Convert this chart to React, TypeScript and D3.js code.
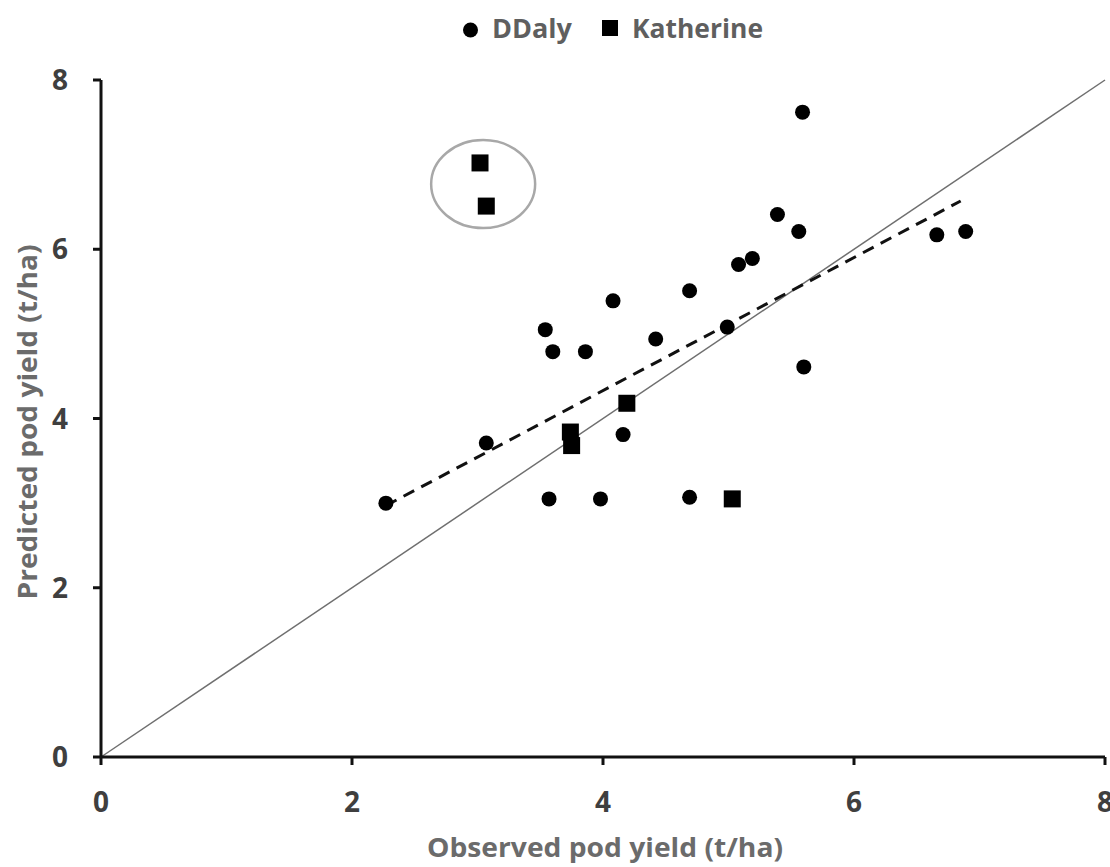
import React from "react";
import * as d3 from "d3";

const ddalyObserved = [2.27, 3.07, 3.54, 3.60, 3.86, 3.57, 3.98, 4.08, 4.16, 4.42, 4.69, 4.69, 4.99, 5.08, 5.19, 5.39, 5.59, 5.56, 5.60, 6.66, 6.89];
const ddalyPredicted = [3.00, 3.71, 5.05, 4.79, 4.79, 3.05, 3.05, 5.39, 3.81, 4.94, 5.51, 3.07, 5.08, 5.82, 5.89, 6.41, 7.62, 6.21, 4.61, 6.17, 6.21];
const kathObserved = [3.02, 3.07, 3.74, 3.75, 4.19, 5.03];
const kathPredicted = [7.02, 6.51, 3.84, 3.68, 4.18, 3.05];
const fitLine = [[2.27, 2.97], [6.85, 6.57]];
const oneToOne = [[0, 0], [8, 8]];
const ticks = [0, 2, 4, 6, 8];
const circled = [[3.045, 6.77]];
const xTitle = "Observed pod yield (t/ha)";
const yTitle = "Predicted pod yield (t/ha)";
const seriesNames = ["DDaly", "Katherine"];

const W = 1110, H = 867;
const FONT = "'Open Sans', Lato, sans-serif";

export default function App() {
  const x = d3.scaleLinear().domain([0, 8]).range([101, 1105]);
  const y = d3.scaleLinear().domain([0, 8]).range([757, 80]);
  const line = d3.line<number[]>().x(d => x(d[0])).y(d => y(d[1]));
  const sq = 17;
  return (
    <svg width={W} height={H} style={{ position: "absolute", left: 0, top: 0, background: "#fff" }} fontFamily={FONT}>
      {/* 1:1 line */}
      <path d={line(oneToOne) || ""} stroke="#6f6f6f" strokeWidth={1.5} fill="none" />
      {/* regression */}
      <path d={line(fitLine) || ""} stroke="#111" strokeWidth={3} strokeDasharray="12,8" fill="none" />
      {/* highlight ellipse */}
      {circled.map((c, i) => (
        <ellipse key={i} cx={x(c[0])} cy={y(c[1])} rx={52} ry={44} fill="none" stroke="#a8a8a8" strokeWidth={2.5} />
      ))}
      {/* axes */}
      <line x1={x(0)} x2={x(8)} y1={y(0)} y2={y(0)} stroke="#111" strokeWidth={3} />
      <line x1={x(0)} x2={x(0)} y1={y(0)} y2={y(8)} stroke="#111" strokeWidth={3} />
      {ticks.map(t => (
        <g key={"x" + t}>
          <line x1={x(t)} x2={x(t)} y1={y(0)} y2={y(0) + 8} stroke="#111" strokeWidth={3} />
          <text x={x(t)} y={812} textAnchor="middle" fontSize={28} fontWeight="bold" fill="#3f3f3f">{t}</text>
        </g>
      ))}
      {ticks.map(t => (
        <g key={"y" + t}>
          <line x1={x(0) - 8} x2={x(0)} y1={y(t)} y2={y(t)} stroke="#111" strokeWidth={3} />
          <text x={68} y={y(t)} dy="0.36em" textAnchor="end" fontSize={28} fontWeight="bold" fill="#3f3f3f">{t}</text>
        </g>
      ))}
      {/* axis titles */}
      <text x={605} y={857} textAnchor="middle" fontSize={27} fontWeight="bold" fill="#6b6b6b" textLength={356} lengthAdjust="spacingAndGlyphs">{xTitle}</text>
      <text transform={`translate(37,${422}) rotate(-90)`} textAnchor="middle" fontSize={27} fontWeight="bold" fill="#6b6b6b" textLength={355} lengthAdjust="spacingAndGlyphs">{yTitle}</text>
      {/* points */}
      {ddalyObserved.map((v, i) => (
        <circle key={"d" + i} cx={x(v)} cy={y(ddalyPredicted[i])} r={7.5} fill="#000" />
      ))}
      {kathObserved.map((v, i) => (
        <rect key={"k" + i} x={x(v) - sq / 2} y={y(kathPredicted[i]) - sq / 2} width={sq} height={sq} fill="#000" />
      ))}
      {/* legend */}
      <circle cx={470.5} cy={30} r={7.5} fill="#000" />
      <text x={492} y={38} fontSize={27} fontWeight="bold" fill="#5f5f5f" textLength={80} lengthAdjust="spacingAndGlyphs">{seriesNames[0]}</text>
      <rect x={602} y={20} width={16} height={16} fill="#000" />
      <text x={632} y={38} fontSize={27} fontWeight="bold" fill="#5f5f5f" textLength={131} lengthAdjust="spacingAndGlyphs">{seriesNames[1]}</text>
    </svg>
  );
}
